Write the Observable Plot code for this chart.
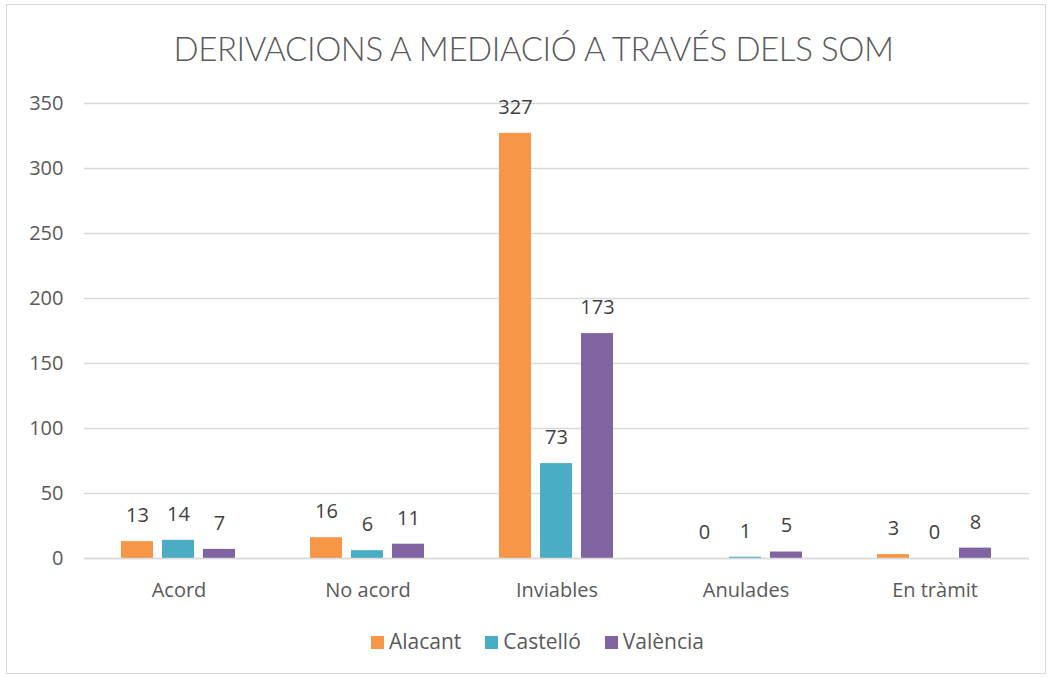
<!DOCTYPE html>
<html>
<head>
<meta charset="utf-8">
<script src="https://cdn.jsdelivr.net/npm/d3@7"></script>
<script src="https://cdn.jsdelivr.net/npm/@observablehq/plot@0.6"></script>
<style>
  html, body { margin: 0; padding: 0; background: #fff; }
  #wrap { position: relative; width: 1051px; height: 677px; overflow: hidden; font-family: "Open Sans", Lato, sans-serif; }
  #frame { position: absolute; left: 6px; top: 4px; width: 1040px; height: 670px; border: 1px solid #d9d9d9; box-sizing: border-box; }
  #title { position: absolute; left: 8px; width: 1051px; top: 28px; text-align: center; font-family: Lato, sans-serif; font-size: 33px; color: #595959; font-weight: 300; letter-spacing: -0.4px; }
  #chart { position: absolute; left: 0; top: 0; }
  #legend { position: absolute; top: 627px; left: 371px; display: flex; gap: 24px; font-size: 21px; color: #595959; }
  .item { display: flex; align-items: center; gap: 5px; }
  .sw { width: 13px; height: 13px; display: inline-block; margin-top: 2px; }
</style>
</head>
<body>
<div id="wrap">
  <div id="frame"></div>
  <div id="chart"></div>
  <div id="title">DERIVACIONS A MEDIACIÓ A TRAVÉS DELS SOM</div>
  <div id="legend"></div>
</div>
<script>
const categories = ["Acord", "No acord", "Inviables", "Anulades", "En tràmit"];
const seriesNames = ["Alacant", "Castelló", "València"];
const alacant = [13, 16, 327, 0, 3];
const castello = [14, 6, 73, 1, 0];
const valencia = [7, 11, 173, 5, 8];
const colors = ["#F79646", "#4BACC6", "#8064A2"];
const yTicks = [0, 50, 100, 150, 200, 250, 300, 350];

const seriesValues = [alacant, castello, valencia];
const data = [];
categories.forEach((c, i) => {
  seriesNames.forEach((s, j) => {
    data.push({cat: c, series: s, value: seriesValues[j][i]});
  });
});

const chart = Plot.plot({
  width: 1051,
  height: 677,
  marginLeft: 83,
  marginRight: 21,
  marginTop: 103,
  marginBottom: 119,
  style: {fontFamily: "'Open Sans', Lato, sans-serif", fontSize: "20px", color: "#595959", background: "transparent"},
  fx: {domain: categories, padding: 0, label: null},
  x: {domain: seriesNames, paddingInner: 0.21, paddingOuter: 0.86, axis: null},
  y: {domain: [0, 350], ticks: yTicks, label: null},
  color: {domain: seriesNames, range: colors},
  marks: [
    Plot.gridY(yTicks, {stroke: "#d9d9d9", strokeOpacity: 1, strokeWidth: 1.5}),
    Plot.axisY(yTicks, {tickSize: 0, tickPadding: 21, label: null, fontSize: 20}),
    Plot.axisFx({anchor: "bottom", tickSize: 0, tickPadding: 24, label: null, fontSize: 20}),
    Plot.barY(data, {fx: "cat", x: "series", y: "value", fill: "series"}),
    Plot.ruleY([0], {stroke: "#d9d9d9", strokeWidth: 1.5}),
    Plot.text(data, {fx: "cat", x: "series", y: "value", text: d => String(d.value), dy: -26, fill: "#404040", fontSize: 20})
  ]
});
document.getElementById("chart").appendChild(chart);

const legend = document.getElementById("legend");
seriesNames.forEach((s, i) => {
  const it = document.createElement("div");
  it.className = "item";
  const sw = document.createElement("span");
  sw.className = "sw";
  sw.style.background = colors[i];
  const t = document.createElement("span");
  t.textContent = s;
  it.appendChild(sw);
  it.appendChild(t);
  legend.appendChild(it);
});
</script>
</body>
</html>
